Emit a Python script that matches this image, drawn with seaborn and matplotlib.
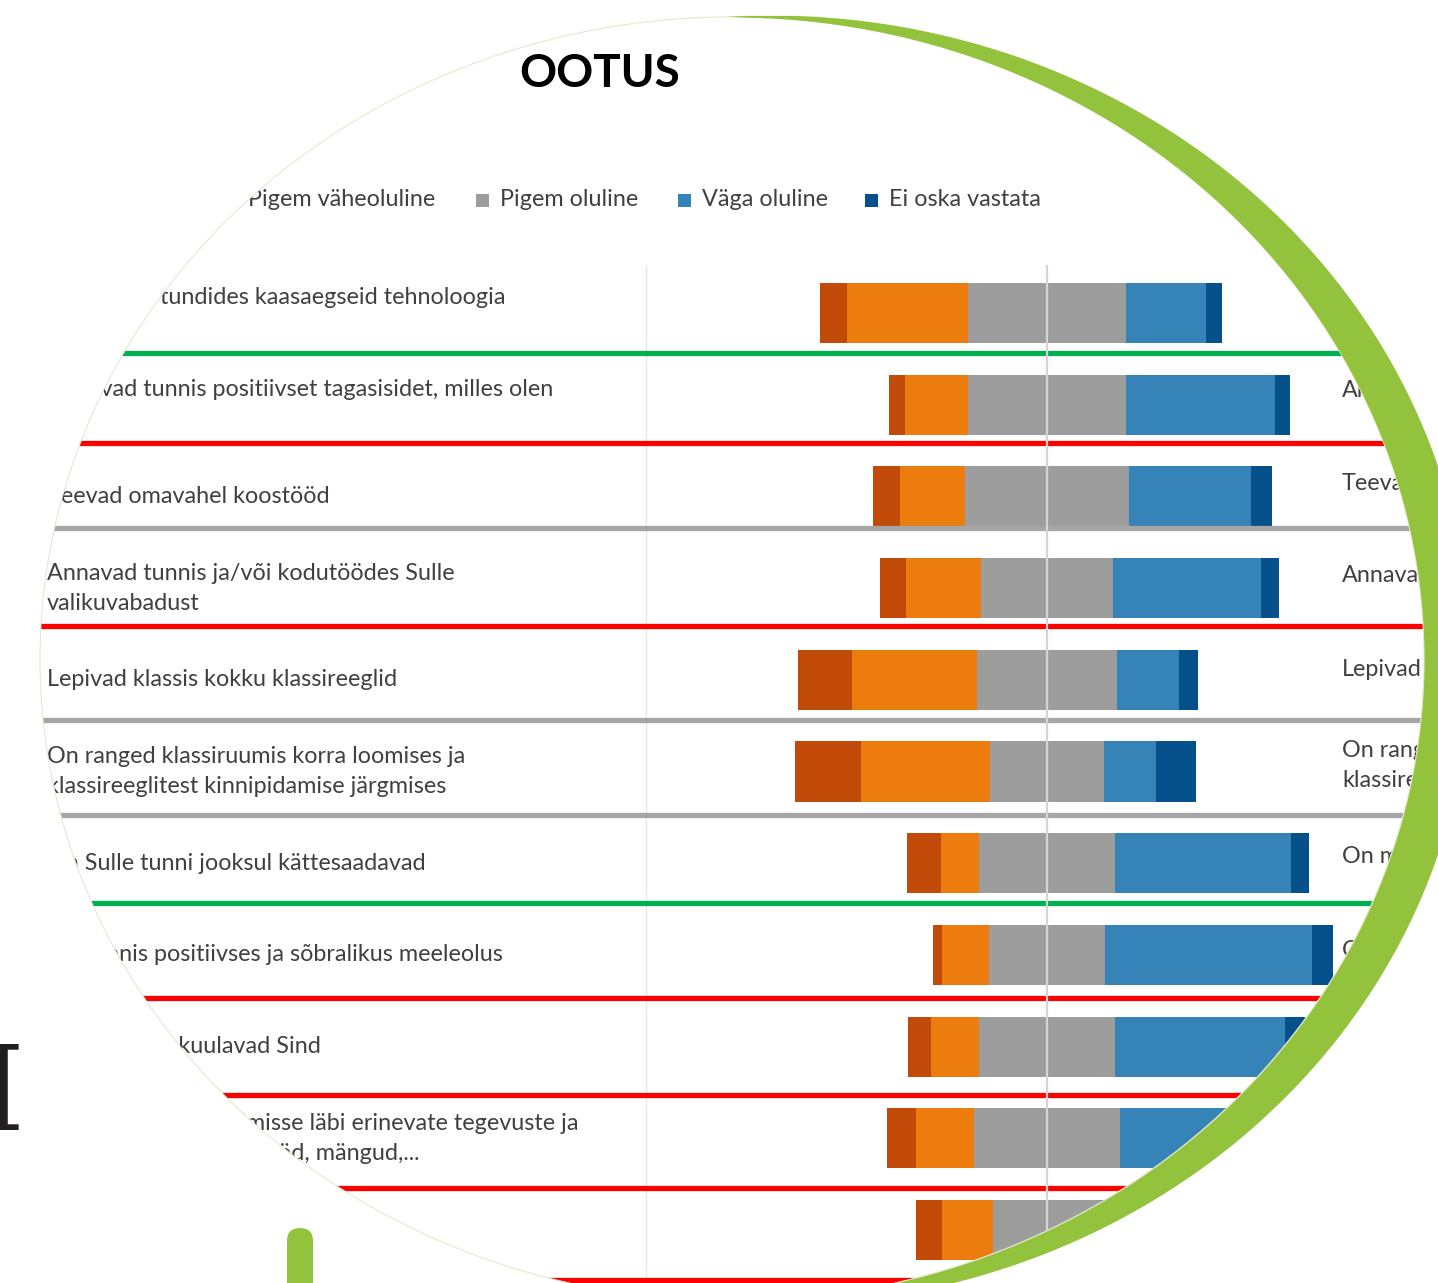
import numpy as np
import pandas as pd
import matplotlib
matplotlib.use("Agg")
import matplotlib.pyplot as plt
import matplotlib.transforms as mtransforms
from matplotlib.patches import Ellipse, Rectangle, FancyBboxPatch, PathPatch
from matplotlib.path import Path
import seaborn as sns

sns.set_theme(style="white")
plt.rcParams['font.family'] = ['Lato', 'DejaVu Sans']

# ---------------- data ----------------
title = "OOTUS"
statements = [
    "Kasutavad tundides kaasaegseid tehnoloogia\n ",
    "Annavad tunnis positiivset tagasisidet, milles olen\n ",
    "Teevad omavahel koostööd",
    "Annavad tunnis ja/või kodutöödes Sulle\nvalikuvabadust",
    "Lepivad klassis kokku klassireeglid",
    "On ranged klassiruumis korra loomises ja\nklassireeglitest kinnipidamise järgmises",
    "On Sulle tunni jooksul kättesaadavad",
    "On tunnis positiivses ja sõbralikus meeleolus",
    "Märkavad ja kuulavad Sind",
    "Kaasavad Sind õppimisse läbi erinevate tegevuste ja\nmeetodite, nt rühmatööd, mängud,...",
    "Selgitavad arusaadavalt",
]
categories = ["Üldse mitte oluline", "Pigem väheoluline", "Pigem oluline",
              "Väga oluline", "Ei oska vastata"]
uldse = [6.7, 4.2, 6.7, 6.7, 13.5, 16.5, 8.5, 2.2, 5.7, 7.2, 6.5]
vahe = [30.2, 15.7, 16.2, 18.7, 31.2, 32.2, 9.5, 11.7, 12.0, 14.5, 12.7]
olul = [39.4, 39.2, 41.1, 32.7, 34.9, 28.2, 33.7, 28.9, 33.9, 36.4, 26.9]
vaga = [19.9, 37.2, 30.4, 36.9, 15.5, 13.0, 43.9, 51.6, 42.4, 37.0, 49.0]
ei_oska = [4.0, 3.7, 5.2, 4.7, 4.7, 10.0, 4.7, 5.2, 5.0, 5.0, 5.0]

# separators between rows (row units) and their colours
sep_y = [0.436, 1.418, 2.345, 3.413, 4.438, 5.474, 6.434, 7.47, 8.528, 9.54, 10.545]
sep_colors = ["#00B050", "#FF0000", "#A6A6A6", "#FF0000", "#A6A6A6", "#A6A6A6",
              "#00B050", "#FF0000", "#FF0000", "#FF0000", "#FF0000"]

# second (cut-off) panel labels
right_labels = ["Annavad", "Teevad", "Annavad", "Lepivad",
                "On ranged\nklassireeglid", "On materjalid", "On tunnis"]
right_label_y = [0.84, 1.854, 2.868, 3.893, 4.93, 5.93, 6.95]

colors = ["#C24A09", "#EC7C0E", "#9D9D9D", "#3683B7", "#06518C"]
GREEN = "#93C33C"
TEXT = "#404040"
FS = 16.8

# ---------------- layout ----------------
W, H = 1438, 1283
center_px, px_per_pct = 1047, 4.01
row0_px, row_px = 313, 91.7

fig = plt.figure(figsize=(W / 100, H / 100), dpi=100)
fig.patch.set_facecolor("white")
ax = fig.add_axes([0, 0, 1, 1], zorder=1)
deco = fig.add_axes([0, 0, 1, 1], zorder=2)
deco.set_xlim(0, W)
deco.set_ylim(H, 0)
deco.axis("off")
deco.patch.set_alpha(0)

# inner ellipse (visible region) and outer ellipse of crescent
c1, a1, b1 = (732, 659), 692, 642
c2, a2, b2 = (770, 660), 700, 645
clip_el = Ellipse(c1, 2 * a1, 2 * b1, transform=deco.transData)

# ---------------- bars ----------------
df = pd.DataFrame({"Väide": statements, "u": uldse, "v": vahe, "o": olul,
                   "g": vaga, "e": ei_oska})
half = df["o"] / 2
pos = pd.DataFrame({
    "Väide": statements,
    "ei_end": half + df["g"] + df["e"],
    "vaga_end": half + df["g"],
    "olul_r": half,
    "uldse_end": -(df["u"] + df["v"] + half),
    "vahe_end": -(df["v"] + half),
    "olul_l": -half,
})
order = [("ei_end", colors[4]), ("vaga_end", colors[3]), ("olul_r", colors[2]),
         ("uldse_end", colors[0]), ("vahe_end", colors[1]), ("olul_l", colors[2])]
for col, colr in order:
    sns.barplot(data=pos, x=col, y="Väide", orient="h", color=colr, width=0.655,
                saturation=1, errorbar=None, linewidth=0, ax=ax)

ax.set_xlim(-center_px / px_per_pct, (W - center_px) / px_per_pct)
ax.set_ylim((H - row0_px) / row_px, -row0_px / row_px)
ax.axis("off")

# gridlines
ax.vlines([-100], -0.52, 11.5, colors="#E6E6E6", lw=1.0, zorder=0.5)
ax.vlines([0], -0.52, 11.5, colors="#D4D4D4", lw=1.6, zorder=3)
# separators
ax.hlines(sep_y, -300, 120, colors=sep_colors, lw=3.8, zorder=2)

# labels
trans = mtransforms.blended_transform_factory(ax.transAxes, ax.transData)
for i, s in enumerate(statements):
    ax.text(47 / W, i, s, transform=trans, ha="left", va="center", fontsize=FS,
            color=TEXT, linespacing=1.53)
for y, s in zip(right_label_y, right_labels):
    ax.text(1342 / W, y, s, transform=trans, ha="left", va="center", fontsize=FS,
            color=TEXT, linespacing=1.53)

for art in list(ax.patches) + list(ax.collections) + list(ax.lines):
    art.set_clip_path(clip_el)

# legend (manual, later covered outside the circle)
leg_x = [-20, 224, 476, 678, 865]
for x, lab, colr in zip(leg_x, categories, colors):
    deco.add_patch(Rectangle((x, 193.5), 13, 13, facecolor=colr, edgecolor="none",
                             zorder=1))
    deco.text(x + 24, 200, lab, ha="left", va="center", fontsize=FS, color=TEXT,
              zorder=1)

# white mask outside the circle
theta = np.linspace(0, 2 * np.pi, 600)
ex = c1[0] + a1 * np.cos(theta)
ey = c1[1] + b1 * np.sin(theta)
rect = [(-20, -20), (W + 20, -20), (W + 20, H + 20), (-20, H + 20), (-20, -20)]
ell = list(zip(ex[::-1], ey[::-1]))
verts = rect + ell
codes = ([Path.MOVETO] + [Path.LINETO] * 3 + [Path.CLOSEPOLY] +
         [Path.MOVETO] + [Path.LINETO] * (len(ell) - 2) + [Path.CLOSEPOLY])
deco.add_patch(PathPatch(Path(verts, codes), facecolor="white", edgecolor="none",
                         zorder=2))

# thin outline of circle
deco.add_patch(Ellipse(c1, 2 * a1, 2 * b1, fill=False, edgecolor="#E3E6C8", lw=0.7,
                       zorder=2.5))

# green crescent
ys = np.linspace(0, H, 1500)
t_in = 1 - ((ys - c1[1]) / b1) ** 2
t_out = 1 - ((ys - c2[1]) / b2) ** 2
x_out = np.where(t_out > 0, c2[0] + a2 * np.sqrt(np.clip(t_out, 0, None)), np.nan)
x_out_l = np.where(t_out > 0, c2[0] - a2 * np.sqrt(np.clip(t_out, 0, None)), np.nan)
x_in = np.where(t_in > 0, c1[0] + a1 * np.sqrt(np.clip(t_in, 0, None)), x_out_l)
deco.fill_betweenx(ys, x_in, x_out, where=(x_out > x_in), color=GREEN, lw=0,
                   interpolate=True, zorder=3)

# green rounded bar bottom-left and partial glyph
deco.add_patch(FancyBboxPatch((287, 1228), 26, 120,
                              boxstyle="round,pad=0,rounding_size=13",
                              facecolor=GREEN, edgecolor="none", zorder=3))
deco.text(2, 1130, "I", family="DejaVu Serif", fontsize=84, ha="center",
          va="baseline", color="#231F20", zorder=3)

# title
fig.text(600 / W, 1 - 74 / H, title, ha="center", va="center", fontsize=33,
         fontweight="bold", color="black", family="Lato")

fig.savefig("out.png", dpi=100, facecolor="white")
